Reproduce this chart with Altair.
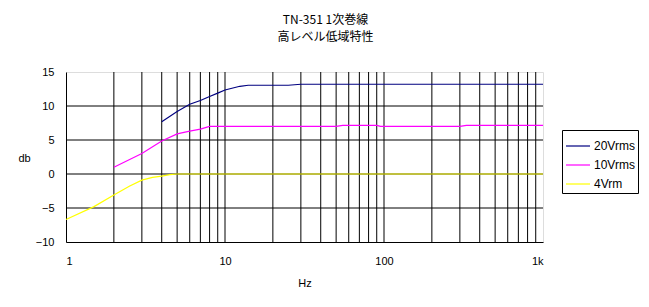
import altair as alt
import pandas as pd

# ---- data ----
series_names = ["20Vrms", "10Vrms", "4Vrm"]
series_colors = ["#000080", "#ff00ff", "#ffff00"]

blue_f = [4, 5, 6, 7, 8, 9, 10, 12.4, 14, 20, 25, 30, 100, 1000]
blue_db = [7.7, 9.2, 10.25, 10.8, 11.4, 11.9, 12.35, 12.9, 13.05, 13.05, 13.05, 13.2, 13.2, 13.2]

mag_f = [2, 3, 4, 5, 6, 7, 8, 50, 55, 90, 95, 300, 330, 1000]
mag_db = [1.0, 3.0, 4.85, 5.9, 6.3, 6.6, 7.0, 7.0, 7.15, 7.15, 7.0, 7.0, 7.15, 7.15]

yel_f = [1, 1.5, 2, 2.5, 3, 3.5, 4, 4.5, 5, 1000]
yel_db = [-6.7, -4.8, -3.1, -1.8, -0.9, -0.5, -0.3, -0.1, 0.0, 0.0]

x_tick_values = [1, 10, 100, 1000]
y_tick_values = [-10, -5, 0, 5, 10, 15]
v_grid = [2, 3, 4, 5, 6, 7, 8, 9, 10, 20, 30, 40, 50, 60, 70, 80, 90,
          100, 200, 300, 400, 500, 600, 700, 800, 900]
h_grid = [-5, 0, 5, 10]

rows = []
for name, fs, ds in zip(series_names, [blue_f, mag_f, yel_f], [blue_db, mag_db, yel_db]):
    for i, (f, d) in enumerate(zip(fs, ds)):
        rows.append({"series": name, "f": f, "db": d, "order": i})
df = pd.DataFrame(rows)

LABEL_FONT = "Liberation Sans"

x_scale = alt.Scale(type="log", domain=[1, 1000], nice=False)
y_scale = alt.Scale(domain=[-10, 15], nice=False, zero=False)

x_axis = alt.Axis(
    values=x_tick_values,
    labelExpr="datum.value == 1000 ? '1k' : format(datum.value, 'd')",
    grid=False, ticks=False, domainColor="black", domainWidth=1,
    labelPadding=13, labelFont=LABEL_FONT, labelFontSize=11, labelColor="black",
    title="Hz", titleFont=LABEL_FONT, titleFontSize=11, titleFontWeight="normal",
    titleColor="black", titleY=41, titleBaseline="middle",
)
y_axis = alt.Axis(
    values=y_tick_values, grid=False, ticks=False, domainColor="black", domainWidth=1,
    labelPadding=12, labelFont=LABEL_FONT, labelFontSize=11, labelColor="black",
    title="db", titleAngle=0, titleX=-42, titleY=86, titleAlign="center",
    titleBaseline="middle", titleFont=LABEL_FONT, titleFontSize=11,
    titleFontWeight="normal", titleColor="black",
)

vgrid = alt.Chart(pd.DataFrame({"f": v_grid})).mark_rule(color="black", strokeWidth=1).encode(
    x=alt.X("f:Q", scale=x_scale, axis=x_axis)
)
hgrid = alt.Chart(pd.DataFrame({"db": h_grid})).mark_rule(color="black", strokeWidth=1).encode(
    y=alt.Y("db:Q", scale=y_scale, axis=y_axis)
)
lines = alt.Chart(df).mark_line(strokeWidth=1.2, interpolate="linear").encode(
    x=alt.X("f:Q", scale=x_scale, axis=x_axis),
    y=alt.Y("db:Q", scale=y_scale, axis=y_axis),
    color=alt.Color(
        "series:N",
        scale=alt.Scale(domain=series_names, range=series_colors),
        legend=alt.Legend(
            title=None, orient="none", legendX=496, legendY=58,
            symbolType="stroke", symbolSize=576, symbolStrokeWidth=1.2,
            rowPadding=-6, padding=3, labelOffset=3,
            strokeColor="black", fillColor="white",
            labelFont=LABEL_FONT, labelFontSize=12, labelColor="black",
        ),
    ),
    order="order:Q",
)

chart = alt.layer(vgrid, hgrid, lines).properties(
    width=477, height=170,
    padding={"left": 66, "top": 72, "right": 106, "bottom": 65},
    autosize="none",
    title=alt.TitleParams(
        text=["TN-351 1次巻線", "高レベル低域特性"],
        font="Noto Sans CJK JP", fontSize=12, fontWeight="normal", color="black",
        anchor="middle", dx=21, offset=22, lineHeight=17,
    ),
).configure_view(fill="#bdbdbd", stroke="transparent").configure(background="white")

chart.save("out.html", embed_options={"renderer": "svg", "actions": False})
